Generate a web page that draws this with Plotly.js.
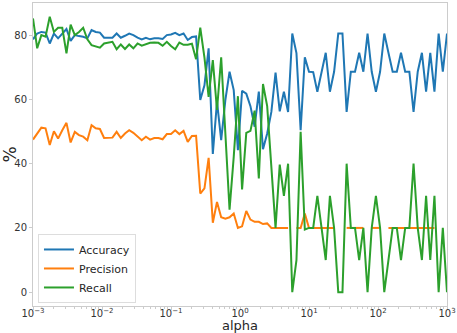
<!DOCTYPE html>
<html>
<head>
<meta charset="utf-8">
<script src="https://cdn.plot.ly/plotly-3.0.1.min.js"></script>
<style>
  html, body { margin: 0; padding: 0; background: #fff; }
  #chart { width: 457px; height: 333px; }
</style>
</head>
<body>
<div id="chart"></div>
<script>
// alpha grid (log spaced, 1e-3 .. 1e3)
const alpha = [
    0.001, 0.00115, 0.001322, 0.00152, 0.001748, 0.002009, 0.00231, 0.002656, 0.003054, 0.003511,
    0.004037, 0.004642, 0.005337, 0.006136, 0.007055, 0.008111, 0.009326,
    0.01072, 0.01233, 0.01417, 0.0163, 0.01874, 0.02154, 0.02477, 0.02848, 0.03275,
    0.03765, 0.04329, 0.04977, 0.05722, 0.06579, 0.07565, 0.08697,
    0.1, 0.115, 0.1322, 0.152, 0.1748, 0.2009, 0.231, 0.2656, 0.3054, 0.3511,
    0.4037, 0.4642, 0.5337, 0.6136, 0.7055, 0.8111, 0.9326,
    1.072, 1.233, 1.417, 1.63, 1.874, 2.154, 2.477, 2.848, 3.275,
    3.765, 4.329, 4.977, 5.722, 6.579, 7.565, 8.697,
    10, 11.5, 13.22, 15.2, 17.48, 20.09, 23.1, 26.56, 30.54, 35.11,
    40.37, 46.42, 53.37, 61.36, 70.55, 81.11, 93.26,
    107.2, 123.3, 141.7, 163, 187.4, 215.4, 247.7, 284.8, 327.5,
    376.5, 432.9, 497.7, 572.2, 657.9, 756.5, 869.7, 1000
];

// Accuracy (%)
const accuracy = [
    78.7, 80.5, 81.0, 80.8, 77.4, 80.5, 79.0, 80.5, 81.9, 78.2,
    80.0, 79.7, 79.5, 79.0, 81.6, 81.0, 80.8, 79.2, 79.2, 79.2,
    80.5, 79.2, 79.8, 80.5, 80.0, 79.2, 78.7, 79.2, 78.7, 79.0,
    79.0, 78.8, 80.0, 80.2, 80.7, 80.0, 80.5, 78.5, 79.4, 79.6,
    59.8, 64.4, 75.9, 43.0, 59.3, 47.3, 59.8, 68.6, 62.9, 44.2,
    62.7, 61.8, 57.9, 51.5, 62.4, 44.5, 49.4, 56.1, 68.3, 56.3,
    62.4, 56.1, 80.5, 74.4, 50.4, 73.1, 68.6, 68.5, 62.4, 68.6,
    74.5, 62.4, 68.6, 80.5, 80.5, 56.1, 68.6, 68.6, 74.5, 68.6,
    80.5, 68.6, 62.4, 68.6, 80.5, 74.5, 68.6, 68.6, 74.5, 68.6,
    68.6, 56.1, 68.6, 74.5, 62.4, 74.5, 62.4, 80.5, 68.6, 80.5
];

// Precision (%), null where undefined
const precision = [
    47.5, 49.4, 51.2, 51.0, 45.8, 50.1, 47.8, 50.4, 52.7, 46.6,
    49.9, 48.9, 48.4, 47.3, 52.0, 51.0, 50.8, 48.0, 48.0, 48.1,
    49.9, 48.0, 49.4, 50.4, 49.6, 48.4, 47.3, 48.4, 47.5, 48.0,
    48.0, 47.6, 49.2, 49.2, 50.4, 49.2, 50.2, 46.8, 48.6, 48.7,
    30.7, 32.3, 41.8, 21.6, 28.1, 23.3, 22.9, 23.3, 24.5, 20.0,
    20.5, 25.3, 22.6, 21.9, 21.9, 21.2, 21.4, 20, 20, 20,
    20, 20, null, 20, 20, 24.5, 20, 20, 20, 20,
    20, 20, 20, null, null, 20, 20, 20, 20, 20,
    null, 20, 20, 20, null, 20, 20, 20, 20, 20,
    20, 20, 20, 20, 20, 20, 20, null, 20, null
];

// Recall (%)
const recall = [
    85.2, 75.9, 80.0, 79.5, 85.7, 81.0, 82.3, 82.3, 74.3, 83.3,
    80.0, 81.0, 82.3, 78.7, 76.9, 76.4, 76.1, 77.4, 77.6, 77.9,
    75.6, 77.1, 75.7, 77.1, 75.9, 77.4, 76.7, 77.1, 77.6, 77.7,
    77.6, 76.7, 77.9, 76.6, 75.6, 77.7, 77.0, 77.0, 77.3, 72.5,
    82.3, 73.0, 60.8, 72.2, 56.7, 73.1, 49.4, 25.7, 42.1, 61.0,
    32.0, 49.6, 50.2, 56.5, 35.4, 64.8, 57.9, 40.0, 20.0, 39.7,
    30.0, 40.0, 0, 10.0, 49.9, 19.5, 20, 20, 30, 20,
    10, 30, 20, 0, 0, 40, 20, 20, 10, 20,
    0, 20, 30, 20, 0, 10, 20, 20, 10, 20,
    20, 40, 20, 10, 30, 10, 30, 0, 20, 0
];

const seriesNames = ['Accuracy', 'Precision', 'Recall'];
const seriesColors = ['#1f77b4', '#ff7f0e', '#2ca02c'];
const seriesValues = [accuracy, precision, recall];

// x tick labels
const xTickVals = [0.001, 0.01, 0.1, 1, 10, 100, 1000];
const xTickText = ['10<sup>−3</sup>', '10<sup>−2</sup>', '10<sup>−1</sup>', '10<sup>0</sup>',
                   '10<sup>1</sup>', '10<sup>2</sup>', '10<sup>3</sup>'];
const yTickVals = [0, 20, 40, 60, 80];

const traces = seriesValues.map((vals, k) => ({
    x: alpha,
    y: vals,
    type: 'scatter',
    mode: 'lines',
    name: seriesNames[k],
    line: { color: seriesColors[k], width: 2 },
    connectgaps: false,
}));

const spine = '#cccccc';

const layout = {
    width: 457,
    height: 333,
    margin: { l: 33, r: 10, t: 3, b: 27 },
    paper_bgcolor: '#ffffff',
    plot_bgcolor: '#ffffff',
    font: { family: 'DejaVu Sans', size: 10, color: '#333333' },
    showlegend: true,
    legend: {
        x: 0.012, y: 0.01, xanchor: 'left', yanchor: 'bottom',
        bgcolor: 'rgba(255,255,255,0.8)',
        bordercolor: '#dddddd', borderwidth: 1,
        font: { size: 11, color: '#262626' },
        itemwidth: 30,
        tracegroupgap: 0,
    },
    xaxis: {
        type: 'log',
        range: [-3, 3],
        tickmode: 'array',
        tickvals: xTickVals,
        ticktext: xTickText,
        showgrid: false,
        zeroline: false,
        showline: true, mirror: true, linecolor: spine, linewidth: 1,
        ticks: 'outside', ticklen: 3, tickcolor: spine,
        ticklabelstandoff: -5,
        tickfont: { size: 10, color: '#333333' },
        minor: { ticks: 'outside', ticklen: 2, tickcolor: spine, dtick: 'D1', showgrid: false },
        automargin: false,
        title: { text: 'alpha', font: { size: 13, color: '#262626' }, standoff: 0 },
    },
    yaxis: {
        range: [-4.3, 90],
        tickmode: 'array',
        tickvals: yTickVals,
        showgrid: false,
        zeroline: false,
        showline: true, mirror: true, linecolor: spine, linewidth: 1,
        ticks: 'outside', ticklen: 3, tickcolor: spine,
        tickfont: { size: 10, color: '#333333' },
        title: { text: '%', font: { size: 17, color: '#262626' }, standoff: 4 },
    },
};

Plotly.newPlot('chart', traces, layout, { displayModeBar: false, staticPlot: true });
</script>
</body>
</html>
